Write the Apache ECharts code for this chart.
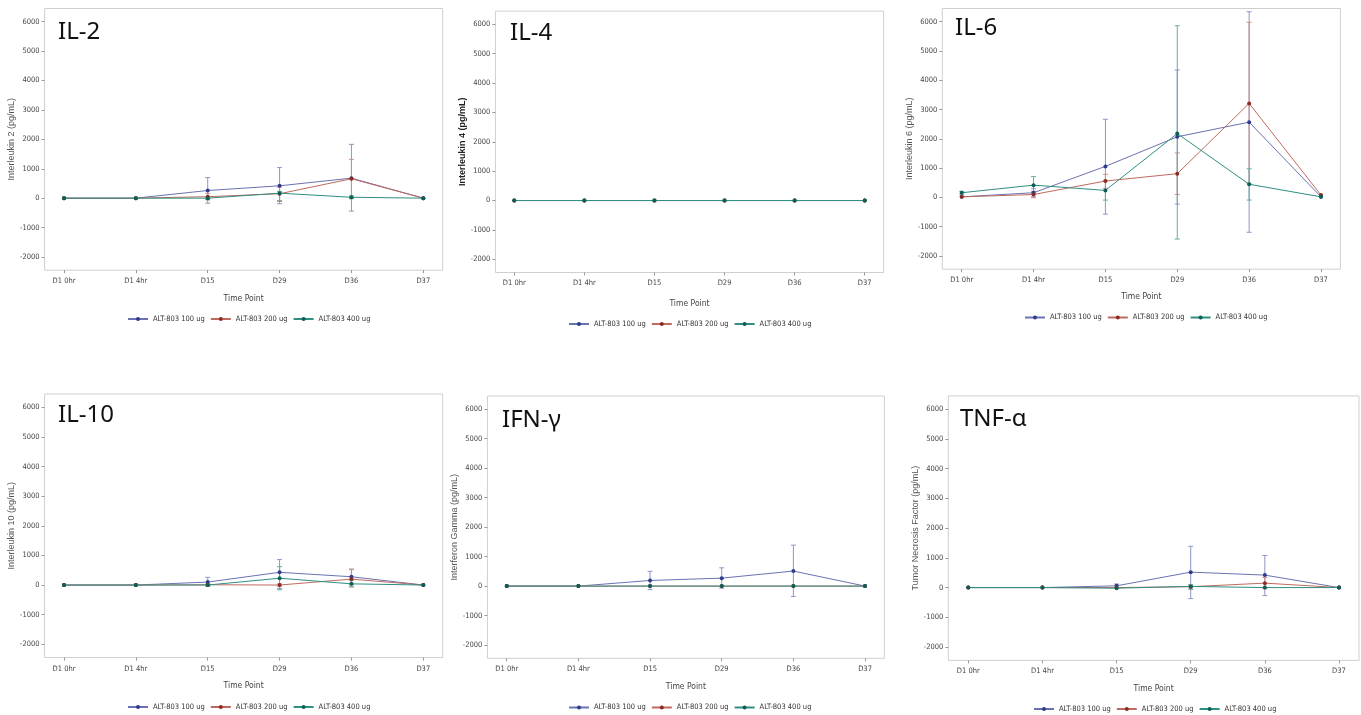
<!DOCTYPE html>
<html>
<head>
<meta charset="utf-8">
<title>Cytokines by time point</title>
<script src="https://cdn.jsdelivr.net/npm/echarts@6.0.0/dist/echarts.min.js"></script>
<style>
  html, body { margin: 0; padding: 0; background: #fff; }
  #chart { width: 1361px; height: 715px; }
</style>
</head>
<body>
<div id="chart"></div>
<script>
// time points and doses
var categories = ["D1 0hr", "D1 4hr", "D15", "D29", "D36", "D37"];
var doses = ["ALT-803 100 ug", "ALT-803 200 ug", "ALT-803 400 ug"];
var yTicks = [-2000, -1000, 0, 1000, 2000, 3000, 4000, 5000, 6000];
var panelTitles = ["IL-2", "IL-4", "IL-6", "IL-10", "IFN-γ", "TNF-α"];
var yNames = ["Interleukin 2 (pg/mL)", "Interleukin 4 (pg/mL)", "Interleukin 6 (pg/mL)",
  "Interleukin 10 (pg/mL)", "Interferon Gamma (pg/mL)", "Tumor Necrosis Factor (pg/mL)"];

// means (pg/mL), one array per dose; error bars as [low, high]
var il2_100 = [0, 0, 260, 420, 680, 0];
var il2_200 = [0, 0, 50, 150, 660, 0];
var il2_400 = [0, 0, 0, 170, 30, 0];
var il2_100_err = [null, null, [-170, 700], [-190, 1040], [-440, 1830], null];
var il2_200_err = [null, null, [-60, 160], [-80, 380], [0, 1320], null];
var il2_400_err = [null, null, [-40, 40], [-110, 230], [-20, 80], null];

var il4_100 = [0, 0, 0, 0, 0, 0];
var il4_200 = [0, 0, 0, 0, 0, 0];
var il4_400 = [0, 0, 0, 0, 0, 0];

var il6_100 = [20, 160, 1060, 2070, 2570, 20];
var il6_200 = [20, 100, 560, 810, 3210, 80];
var il6_400 = [160, 420, 240, 2180, 450, 20];
var il6_100_err = [null, [20, 300], [-570, 2670], [-230, 4350], [-1190, 6340], null];
var il6_200_err = [null, [-10, 210], [310, 790], [100, 1520], [480, 5980], null];
var il6_400_err = [[110, 210], [140, 710], [-90, 570], [-1420, 5860], [-90, 980], null];

var il10_100 = [0, 0, 100, 430, 280, 0];
var il10_200 = [0, 0, 10, 0, 200, 0];
var il10_400 = [0, 0, 0, 230, 40, 0];
var il10_100_err = [null, null, [-50, 260], [-120, 860], [20, 540], null];
var il10_200_err = [null, null, null, [-40, 40], [-70, 520], null];
var il10_400_err = [null, null, [-30, 30], [-160, 620], [-40, 150], null];

var ifn_100 = [0, 0, 190, 270, 510, 0];
var ifn_200 = [0, 0, 0, 0, 0, 0];
var ifn_400 = [0, 0, 0, 0, 0, 0];
var ifn_100_err = [null, null, [-120, 500], [-70, 620], [-350, 1390], null];

var tnf_100 = [0, 0, 60, 520, 420, 0];
var tnf_200 = [0, 0, 0, 30, 150, 0];
var tnf_400 = [0, 0, -20, 40, 0, 0];
var tnf_100_err = [null, null, [0, 120], [-370, 1390], [-270, 1080], null];
var tnf_200_err = [null, null, null, [-20, 80], [-40, 340], null];
var tnf_400_err = [null, null, null, [-60, 100], null, null];

var means = [
  [il2_100, il2_200, il2_400],
  [il4_100, il4_200, il4_400],
  [il6_100, il6_200, il6_400],
  [il10_100, il10_200, il10_400],
  [ifn_100, ifn_200, ifn_400],
  [tnf_100, tnf_200, tnf_400]
];
var errs = [
  [il2_100_err, il2_200_err, il2_400_err],
  [null, null, null],
  [il6_100_err, il6_200_err, il6_400_err],
  [il10_100_err, il10_200_err, il10_400_err],
  [ifn_100_err, null, null],
  [tnf_100_err, tnf_200_err, tnf_400_err]
];

// panel layout (pixels)
var layout = [
  { grid: [44.6, 8.5, 398.1, 261.7], title: [58, 20], legend: [127, 315], gapX: 24, gapY: 21 },
  { grid: [495.4, 11.1, 388.2, 261.4], title: [510, 21], legend: [568, 320], gapX: 27, gapY: 27 },
  { grid: [942.3, 8.5, 398.1, 260.7], title: [955, 16], legend: [1024, 313.5], gapX: 23.5, gapY: 23 },
  { grid: [44.6, 394, 398.1, 263.6], title: [58, 403], legend: [127, 703], gapX: 24, gapY: 21 },
  { grid: [487.4, 396, 397, 262.3], title: [502, 408], legend: [568, 703.5], gapX: 24, gapY: 23 },
  { grid: [948.3, 395.9, 410.7, 264.5], title: [960, 407], legend: [1033, 705], gapX: 24, gapY: 25 }
];

var lineColors = ["#6a72b2", "#bf6a5f", "#2f8f82"];
var markColors = ["#2f3c8c", "#8e2b20", "#0b5f54"];
var errColors = ["#8f96c4", "#cf8f87", "#64ada3"];
var narrow = "'DejaVu Sans Condensed', 'Liberation Sans Narrow', sans-serif";

function renderErr(params, api) {
  var x = api.value(0);
  var lo = api.coord([x, api.value(1)]);
  var hi = api.coord([x, api.value(2)]);
  var w = 2.5;
  var style = { stroke: api.visual("color"), lineWidth: 1 };
  return {
    type: "group",
    children: [
      { type: "line", shape: { x1: lo[0], y1: lo[1], x2: hi[0], y2: hi[1] }, style: style },
      { type: "line", shape: { x1: lo[0] - w, y1: lo[1], x2: lo[0] + w, y2: lo[1] }, style: style },
      { type: "line", shape: { x1: hi[0] - w, y1: hi[1], x2: hi[0] + w, y2: hi[1] }, style: style }
    ]
  };
}

var grids = [], xAxes = [], yAxes = [], titles = [], legends = [], series = [];

layout.forEach(function (p, k) {
  grids.push({
    left: p.grid[0], top: p.grid[1], width: p.grid[2], height: p.grid[3],
    show: true, borderColor: "#cfcfcf", borderWidth: 1, backgroundColor: "#fff"
  });
  xAxes.push({
    type: "value", gridIndex: k, min: -0.27, max: 5.27,
    name: "Time Point", nameLocation: "middle", nameGap: p.gapX,
    nameTextStyle: { fontFamily: narrow, fontSize: 8.5, color: "#444" },
    axisLine: { show: false, onZero: false },
    axisTick: { show: true, length: 3, lineStyle: { color: "#999" }, customValues: [0, 1, 2, 3, 4, 5] },
    axisLabel: {
      margin: 7, fontFamily: narrow, fontSize: 7.5, color: "#444",
      customValues: [0, 1, 2, 3, 4, 5],
      formatter: function (v) { return categories[Math.round(v)]; }
    },
    splitLine: { show: false }
  });
  yAxes.push({
    type: "value", gridIndex: k, min: -2450, max: 6450,
    name: yNames[k], nameLocation: "middle", nameGap: p.gapY,
    nameTextStyle: { fontFamily: "'Liberation Sans', Arial, sans-serif", fontSize: 9, color: k === 1 ? "#222" : "#555", fontWeight: k === 1 ? "bold" : "normal" },
    axisLine: { show: false, onZero: false },
    axisTick: { show: true, length: 3, lineStyle: { color: "#999" }, customValues: yTicks },
    axisLabel: {
      margin: 5, fontFamily: narrow, fontSize: 7.5, color: "#444", customValues: yTicks,
      formatter: function (v) { return String(v); }
    },
    splitLine: { show: false }
  });
  titles.push({
    text: panelTitles[k], left: p.title[0], top: p.title[1], padding: 0,
    textStyle: { fontFamily: "'Noto Sans', 'Open Sans', sans-serif", fontSize: 24, fontWeight: "normal", color: "#111" }
  });
  legends.push({
    data: doses, left: p.legend[0], top: p.legend[1], padding: 0,
    itemWidth: 20, itemHeight: 5, itemGap: 5, selectedMode: false,
    textStyle: { fontFamily: narrow, fontSize: 7.5, color: "#333" }
  });

  for (var d = 0; d < 3; d++) {
    var e = errs[k][d];
    if (e) {
      series.push({
        type: "custom", name: doses[d] + " err " + k, xAxisIndex: k, yAxisIndex: k,
        renderItem: renderErr, z: 1, silent: true,
        itemStyle: { color: errColors[d] },
        encode: { x: 0, y: [1, 2] },
        data: e.map(function (r, i) { return r ? [i, r[0], r[1]] : null; })
          .filter(function (r) { return r !== null; })
      });
    }
  }
  for (var d2 = 0; d2 < 3; d2++) {
    series.push({
      type: "line", name: doses[d2], xAxisIndex: k, yAxisIndex: k, z: 2 + d2,
      symbol: "circle", symbolSize: 4, animation: false,
      lineStyle: { color: lineColors[d2], width: 1 },
      itemStyle: { color: markColors[d2] },
      data: means[k][d2].map(function (v, i) { return [i, v]; })
    });
  }
});

var chart = echarts.init(document.getElementById("chart"), null, { renderer: "canvas" });
chart.setOption({
  animation: false,
  backgroundColor: "#fff",
  title: titles,
  legend: legends,
  grid: grids,
  xAxis: xAxes,
  yAxis: yAxes,
  series: series
});
</script>
</body>
</html>
